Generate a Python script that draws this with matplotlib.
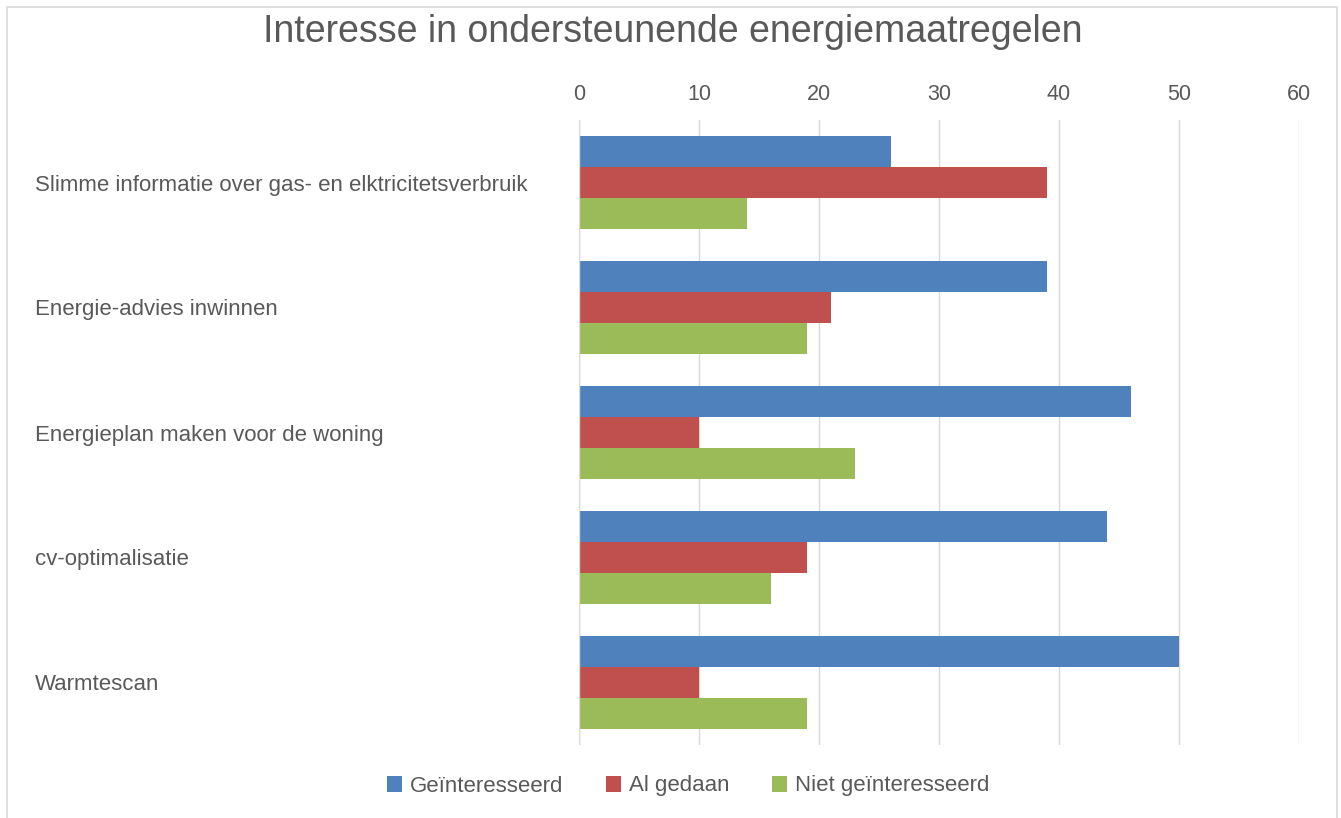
import matplotlib.pyplot as plt
from matplotlib.patches import Rectangle
import numpy as np

# data
categories = ['Slimme informatie over gas- en elktricitetsverbruik',
              'Energie-advies inwinnen',
              'Energieplan maken voor de woning',
              'cv-optimalisatie',
              'Warmtescan']
series_names = ['Geïnteresseerd', 'Al gedaan', 'Niet geïnteresseerd']
geinteresseerd = [26, 39, 46, 44, 50]
al_gedaan = [39, 21, 10, 19, 10]
niet_geinteresseerd = [14, 19, 23, 16, 19]
x_ticks = [0, 10, 20, 30, 40, 50, 60]

colors = ['#4F81BD', '#C0504D', '#9BBB59']
text_color = '#595959'
W, H = 1341, 818

plt.rcParams['font.family'] = ['Liberation Sans', 'DejaVu Sans']

fig = plt.figure(figsize=(W / 100, H / 100), dpi=100)
ax = fig.add_axes([579 / W, 1 - 745 / H, (1299 - 579) / W, (745 - 120) / H])

# light frame round the chart
fig.patches.append(Rectangle((7 / W, -0.05), (1337 - 7) / W, 1 - 7 / H + 0.05,
                             transform=fig.transFigure, fill=False,
                             edgecolor='#d9d9d9', linewidth=1.2))

y = np.arange(len(categories))
h = 0.25
for i, (vals, name) in enumerate(zip([geinteresseerd, al_gedaan, niet_geinteresseerd], series_names)):
    ax.barh(y + (i - 1) * h, vals, height=h, color=colors[i], label=name, zorder=3)

ax.set_xlim(0, 60)
ax.set_ylim(len(categories) - 0.5, -0.5)
ax.set_xticks(x_ticks)
ax.xaxis.tick_top()
ax.grid(axis='x', color='#d9d9d9', linewidth=1, zorder=0)
for s in ax.spines.values():
    s.set_visible(False)
ax.axvline(0, color='#d9d9d9', linewidth=1, zorder=4)

ax.tick_params(axis='x', length=0, pad=11, labelsize=15.5, labelcolor=text_color)
ax.set_yticks(y)
ax.set_yticklabels(categories)
ax.tick_params(axis='y', length=0, pad=(579 - 35) * 0.72, labelsize=16, labelcolor=text_color)
for lab in ax.get_yticklabels():
    lab.set_horizontalalignment('left')

fig.text(673 / W, 1 - 32 / H, 'Interesse in ondersteunende energiemaatregelen',
         ha='center', va='center', fontsize=27, color=text_color)

fig.legend(loc='center', bbox_to_anchor=(688 / W, 1 - 786 / H), ncol=3, frameon=False,
           fontsize=16, labelcolor=text_color, handlelength=0.7, handleheight=0.7,
           handletextpad=0.35, columnspacing=1.9)

fig.savefig('out.png', dpi=100)
